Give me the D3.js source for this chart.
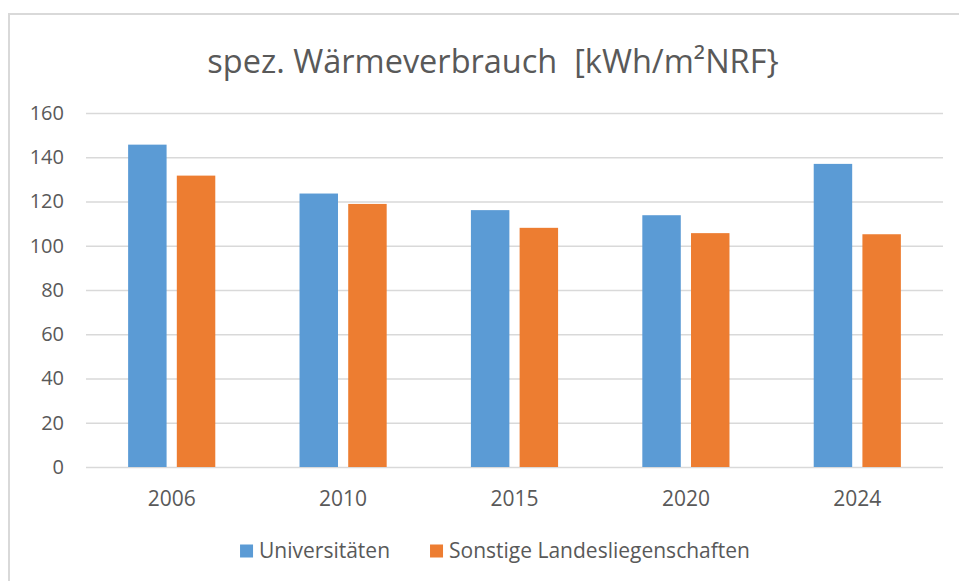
<!DOCTYPE html>
<html>
<head>
<meta charset="utf-8">
<script src="https://cdn.jsdelivr.net/npm/d3@7"></script>
<style>
  body { margin: 0; background: #fff; }
  text { font-family: "Open Sans", "DejaVu Sans", sans-serif; fill: #595959; }
</style>
</head>
<body>
<svg id="chart" width="959" height="581"></svg>
<script>
// values
const years = ["2006", "2010", "2015", "2020", "2024"];
const seriesNames = ["Universitäten", "Sonstige Landesliegenschaften"];
const universitaeten = [145.7, 123.6, 116.1, 113.8, 137.0];
const sonstige = [131.7, 118.9, 108.1, 105.7, 105.2];
const yTicks = [0, 20, 40, 60, 80, 100, 120, 140, 160];
const colors = ["#5b9bd5", "#ed7d31"];

const W = 959, H = 581;
const margin = {top: 113, right: 16, bottom: 114, left: 86};
const innerW = W - margin.left - margin.right;
const innerH = H - margin.top - margin.bottom;

const svg = d3.select("#chart");

// chart area border (only top and left visible in the crop)
svg.append("path")
  .attr("d", "M9," + H + "V14H" + W)
  .attr("fill", "none")
  .attr("stroke", "#d9d9d9")
  .attr("stroke-width", 2);

// title
svg.append("text")
  .attr("x", 493)
  .attr("y", 73)
  .attr("text-anchor", "middle")
  .style("font-size", "32.5px")
  .style("white-space", "pre")
  .text("spez. Wärmeverbrauch  [kWh/m²NRF}");

const g = svg.append("g")
  .attr("transform", "translate(" + margin.left + "," + margin.top + ")");

const x0 = d3.scaleBand().domain(years).range([0, innerW]);
const x1 = d3.scaleBand().domain(seriesNames)
  .range([0, x0.bandwidth()])
  .paddingInner(0.21)
  .paddingOuter(0.865);
const y = d3.scaleLinear().domain([0, 160]).range([innerH, 0]);

// y axis with gridlines
const yAxis = g.append("g")
  .call(d3.axisLeft(y).tickValues(yTicks).tickSize(-innerW).tickPadding(22));
yAxis.select(".domain").remove();
yAxis.selectAll("line").attr("stroke", "#d9d9d9").attr("stroke-width", 1.5);
yAxis.selectAll("text")
  .style("font-size", "20px")
  .style("font-family", "\"Open Sans\", sans-serif")
  .attr("fill", "#595959");

// bars
const rows = years.map((yr, i) => ({year: yr, values: [universitaeten[i], sonstige[i]]}));

const groups = g.append("g").selectAll("g")
  .data(rows)
  .enter()
  .append("g")
  .attr("transform", d => "translate(" + x0(d.year) + ",0)");

groups.selectAll("rect")
  .data(d => d.values.map((v, k) => ({name: seriesNames[k], value: v, k: k})))
  .enter()
  .append("rect")
  .attr("x", d => x1(d.name))
  .attr("y", d => y(d.value))
  .attr("width", x1.bandwidth())
  .attr("height", d => innerH - y(d.value))
  .attr("fill", d => colors[d.k]);

// x axis labels
const xAxis = g.append("g")
  .attr("transform", "translate(0," + innerH + ")")
  .call(d3.axisBottom(x0).tickSize(0).tickPadding(24));
xAxis.select(".domain").remove();
xAxis.selectAll("text")
  .style("font-size", "21px")
  .style("font-family", "\"Open Sans\", sans-serif")
  .attr("fill", "#595959");

// legend
const legend = svg.append("g");
let lx = 0;
seriesNames.forEach((name, k) => {
  const item = legend.append("g").attr("transform", "translate(" + lx + ",0)");
  item.append("rect")
    .attr("x", 0)
    .attr("y", -6.5)
    .attr("width", 13)
    .attr("height", 13)
    .attr("fill", colors[k]);
  const t = item.append("text")
    .attr("x", 19)
    .attr("y", 0)
    .attr("dy", "0.35em")
    .style("font-size", "21px")
    .text(name);
  lx += 19 + t.node().getComputedTextLength() + 40;
});
const legendW = lx - 40;
legend.attr("transform", "translate(" + (495 - legendW / 2) + ",551)");
</script>
</body>
</html>
